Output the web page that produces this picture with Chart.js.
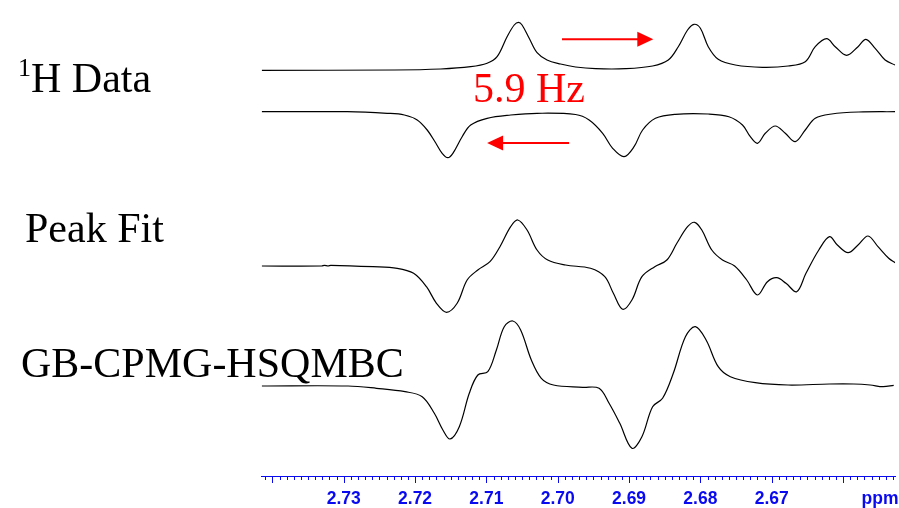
<!DOCTYPE html>
<html>
<head>
<meta charset="utf-8">
<script src="https://cdn.jsdelivr.net/npm/chart.js@4.4.1/dist/chart.umd.min.js"></script>
<style>
  html, body { margin: 0; padding: 0; background: #fff; }
  #wrap { position: relative; width: 899px; height: 508px; }
</style>
</head>
<body>
<div id="wrap"><canvas id="spectra"></canvas></div>
<script>
// x range (ppm), reversed like an NMR axis
const ppmMin = 2.6527;
const ppmMax = 2.7415;
const tickLabels = ['2.73', '2.72', '2.71', '2.70', '2.69', '2.68', '2.67'];

// 1H data, upper (in-phase) trace
const h1Ppm = [2.7415, 2.7229, 2.7164, 2.7122, 2.7099, 2.7085, 2.7071, 2.7061, 2.7055, 2.7050,
  2.7040, 2.7029, 2.7015, 2.6996, 2.6975, 2.6947, 2.6905, 2.6867, 2.6845, 2.6831, 2.6818,
  2.6809, 2.6800, 2.6789, 2.6775, 2.6751, 2.6713, 2.6677, 2.6653, 2.6639, 2.6623, 2.6611,
  2.6595, 2.6579, 2.6568, 2.6555, 2.6541, 2.6527];
const h1Int = [0, 0.3, 1.3, 3.6, 7, 13.6, 33.6, 45.3, 48, 45.3,
  32, 17.6, 10.3, 6.3, 3.3, 1.6, 1.6, 4.3, 10.3, 23.6, 40.3,
  46, 42, 23.6, 11, 5.3, 3, 4.3, 8.6, 23.6, 31.6, 23.6,
  15, 23.6, 31, 22, 10.3, 5.3];

// 1H data, lower (inverted, shifted) trace
const h1InvPpm = [2.7415, 2.7295, 2.7239, 2.7215, 2.7197, 2.7183, 2.7171, 2.7162, 2.7154, 2.7147,
  2.7134, 2.7122, 2.7099, 2.7066, 2.7029, 2.6975, 2.6956, 2.6937, 2.6923, 2.6907, 2.6893,
  2.6881, 2.6863, 2.6835, 2.6789, 2.6760, 2.6741, 2.6730, 2.6720, 2.6709, 2.6695, 2.6681,
  2.6667, 2.6653, 2.6639, 2.6616, 2.6578, 2.6527];
const h1InvInt = [0, 0, -1.6, -3.3, -8.3, -18.3, -31.3, -41.6, -46, -41.6,
  -25, -13.3, -6.6, -3.3, -1.6, -2.8, -8.3, -21.6, -36.6, -45, -35,
  -18.3, -6.6, -2.6, -2.3, -5, -13.3, -25, -31.6, -21.6, -14.3, -21.6,
  -30, -18.3, -6.6, -2.3, -0.3, 0];

// Peak fit (sum of both)
const fitPpm = [2.7415, 2.7331, 2.7327, 2.7322, 2.7318, 2.7259, 2.7225, 2.7202, 2.7184, 2.7170,
  2.7156, 2.7141, 2.7127, 2.7112, 2.7095, 2.7081, 2.7066, 2.7056, 2.7043, 2.7029, 2.7014,
  2.6989, 2.6954, 2.6934, 2.6922, 2.6909, 2.6896, 2.6882, 2.6864, 2.6847, 2.6833, 2.6818,
  2.6808, 2.6798, 2.6784, 2.6769, 2.6752, 2.6735, 2.6720, 2.6706, 2.6693, 2.6680, 2.6665,
  2.6652, 2.6634, 2.6619, 2.6608, 2.6593, 2.6579, 2.6565, 2.6551, 2.6536, 2.6527];
const fitInt = [0, 0, 0.7, 0, 0.7, -0.7, -2.3, -7.3, -20.7, -37.3,
  -46.3, -37.3, -14, -4, 4.3, 19.3, 39.3, 46, 36, 16, 6,
  1, -2.3, -10.7, -27.3, -43.3, -34, -10.7, -0.7, 6, 22.7, 39.3,
  43.7, 36, 16, 6, 0, -14, -29, -15.7, -11.7, -17.3, -25.7,
  -7.3, 16, 29.3, 21, 13.3, 21, 30, 19.3, 7.7, 3.3];

// GB-CPMG-HSQMBC
const hsqmbcPpm = [2.7415, 2.7294, 2.7254, 2.7214, 2.7190, 2.7173, 2.7161, 2.7151, 2.7138, 2.7124,
  2.7112, 2.7098, 2.7086, 2.7075, 2.7063, 2.7052, 2.7037, 2.7023, 2.7006, 2.6965, 2.6942,
  2.6928, 2.6913, 2.6896, 2.6882, 2.6867, 2.6853, 2.6838, 2.6821, 2.6807, 2.6792, 2.6775,
  2.6758, 2.6723, 2.6677, 2.6619, 2.6585, 2.6562, 2.6544, 2.6529];
const hsqmbcInt = [0, 0, -2.3, -5.7, -10.7, -27.3, -44, -53, -40.7, -7.3,
  11, 14.3, 36, 59.3, 65, 56, 26, 7.7, 1, -1.3, -2.3,
  -17.3, -37.3, -62.3, -50.7, -20.7, -12.3, 12.7, 49.3, 59.3, 46, 19.3,
  9.3, 3.3, 1, 2, 2, 1, -0.7, 0.7];

// vertical offset of each trace's baseline on the hidden y scale
const traceOffsets = [405.7, 364.3, 210, 90];

// red arrows: [fromPpm, toPpm, yValue]
const arrows = [[2.6994, 2.6866, 436.7], [2.6984, 2.7099, 333]];

const BLUE = '#0a0af0';

function toPoints(ppm, vals, offset) {
  return ppm.map((p, i) => ({ x: p, y: vals[i] + offset }));
}

function trace(ppm, vals, offset) {
  return {
    data: toPoints(ppm, vals, offset),
    borderColor: '#000',
    borderWidth: 1.2,
    pointRadius: 0,
    fill: false,
    tension: 0.35,
  };
}

const isMajor = (v) => Math.abs(v * 100 - Math.round(v * 100)) < 1e-6;

const annotate = {
  id: 'annotate',
  afterDraw(chart) {
    const { ctx, chartArea } = chart;
    const xs = chart.scales.x;
    const ys = chart.scales.y;
    ctx.save();

    // axis ticks, long at every 0.01 ppm
    ctx.strokeStyle = BLUE;
    ctx.lineWidth = 1;
    xs.ticks.forEach((t) => {
      const px = Math.round(xs.getPixelForValue(t.value)) + 0.5;
      ctx.beginPath();
      ctx.moveTo(px, chartArea.bottom);
      ctx.lineTo(px, chartArea.bottom + (isMajor(t.value) ? 7 : 4));
      ctx.stroke();
    });
    ctx.fillStyle = BLUE;
    ctx.font = 'bold 17.5px "Liberation Sans", Arial, sans-serif';
    ctx.textAlign = 'center';
    ctx.textBaseline = 'alphabetic';
    ctx.fillText('ppm', 880, 503.5);

    // arrows
    ctx.strokeStyle = '#ff0000';
    ctx.fillStyle = '#ff0000';
    ctx.lineWidth = 2;
    arrows.forEach(([from, to, yv]) => {
      const x0 = xs.getPixelForValue(from);
      const x1 = xs.getPixelForValue(to);
      const y = ys.getPixelForValue(yv);
      const dir = Math.sign(x1 - x0);
      ctx.beginPath();
      ctx.moveTo(x0, y);
      ctx.lineTo(x1 - dir * 14, y);
      ctx.stroke();
      ctx.beginPath();
      ctx.moveTo(x1, y);
      ctx.lineTo(x1 - dir * 16, y - 7.5);
      ctx.lineTo(x1 - dir * 16, y + 7.5);
      ctx.closePath();
      ctx.fill();
    });

    // text labels
    ctx.textAlign = 'left';
    ctx.fillStyle = '#ff0000';
    ctx.font = '42px "Liberation Serif", "Times New Roman", serif';
    ctx.fillText('5.9 Hz', 473, 101.5);

    ctx.fillStyle = '#000';
    ctx.font = '26px "Liberation Serif", "Times New Roman", serif';
    ctx.fillText('1', 18, 76);
    ctx.font = '42px "Liberation Serif", "Times New Roman", serif';
    ctx.fillText('H Data', 31, 92);
    ctx.fillText('Peak Fit', 25, 242);
    ctx.fillText('GB-CPMG-HSQMBC', 21, 376.5);
    ctx.restore();
  },
};

new Chart(document.getElementById('spectra'), {
  type: 'line',
  data: {
    datasets: [
      trace(h1Ppm, h1Int, traceOffsets[0]),
      trace(h1InvPpm, h1InvInt, traceOffsets[1]),
      trace(fitPpm, fitInt, traceOffsets[2]),
      trace(hsqmbcPpm, hsqmbcInt, traceOffsets[3]),
    ],
  },
  options: {
    responsive: true,
    maintainAspectRatio: false,
    animation: false,
    layout: { padding: { left: 261.7, right: 2.3, top: 0, bottom: 0 } },
    plugins: { legend: { display: false }, tooltip: { enabled: false } },
    scales: {
      x: {
        type: 'linear',
        reverse: true,
        min: ppmMin,
        max: ppmMax,
        border: { display: true, color: BLUE, width: 1 },
        grid: { drawOnChartArea: false, drawTicks: true, tickLength: 7, tickColor: 'rgba(0,0,0,0)' },
        afterFit(scale) { scale.height = 32; },
        ticks: {
          stepSize: 0.001,
          includeBounds: false,
          autoSkip: false,
          maxRotation: 0,
          padding: 6,
          color: BLUE,
          font: { family: '"Liberation Sans", Arial, sans-serif', size: 17.5, weight: 'bold' },
          callback(v) {
            const s = v.toFixed(2);
            return isMajor(v) && tickLabels.includes(s) ? s : '';
          },
        },
      },
      y: { type: 'linear', display: false, min: 0, max: 476 },
    },
  },
  plugins: [annotate],
});
</script>
</body>
</html>
